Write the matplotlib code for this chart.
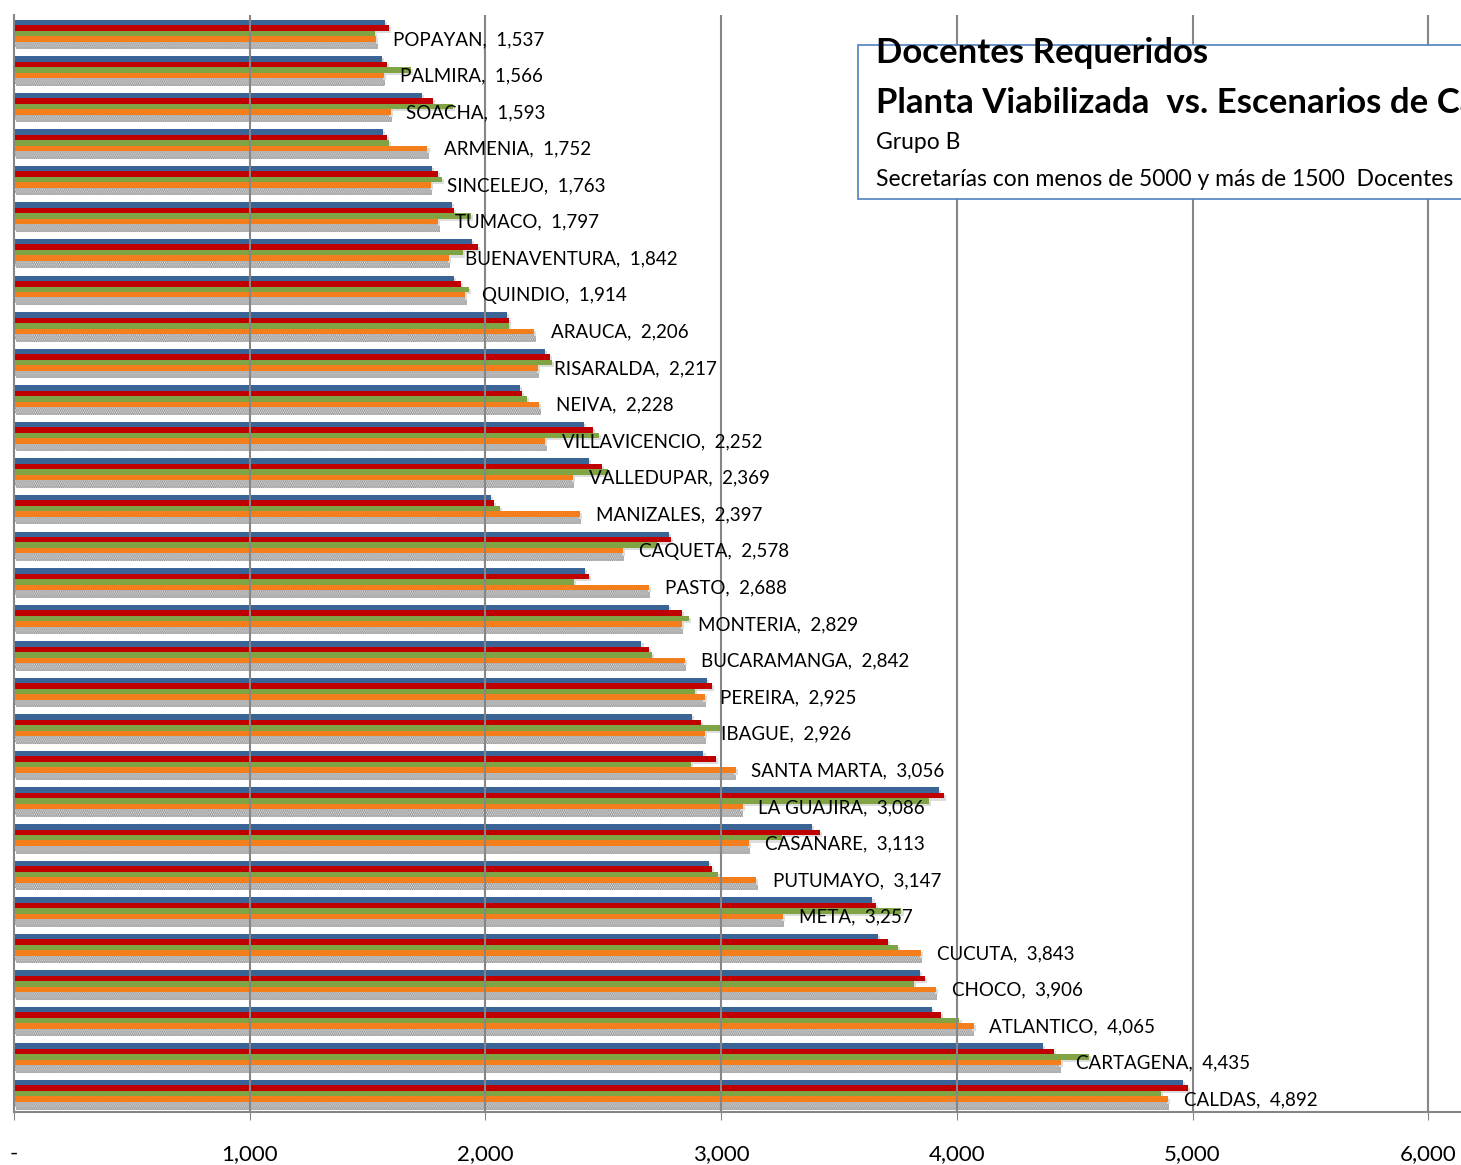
import numpy as np
import matplotlib
matplotlib.use("Agg")
import matplotlib.pyplot as plt
import matplotlib.patheffects as pe
from matplotlib.patches import Rectangle

plt.rcParams['font.family'] = ['Lato', 'DejaVu Sans']
plt.rcParams['hatch.linewidth'] = 1.2

# categories top to bottom
ciudades = ["POPAYAN", "PALMIRA", "SOACHA", "ARMENIA", "SINCELEJO", "TUMACO",
            "BUENAVENTURA", "QUINDIO", "ARAUCA", "RISARALDA", "NEIVA",
            "VILLAVICENCIO", "VALLEDUPAR", "MANIZALES", "CAQUETA", "PASTO",
            "MONTERIA", "BUCARAMANGA", "PEREIRA", "IBAGUE", "SANTA MARTA",
            "LA GUAJIRA", "CASANARE", "PUTUMAYO", "META", "CUCUTA", "CHOCO",
            "ATLANTICO", "CARTAGENA", "CALDAS"]

serie_azul = [1574, 1563, 1730, 1567, 1775, 1860, 1943, 1868, 2090, 2254, 2145,
              2417, 2440, 2022, 2779, 2421, 2779, 2662, 2941, 2878, 2925,
              3926, 3387, 2947, 3642, 3664, 3844, 3896, 4367, 4958]
serie_roja = [1591, 1583, 1776, 1583, 1798, 1868, 1967, 1896, 2100, 2275, 2154,
              2455, 2493, 2036, 2786, 2438, 2833, 2694, 2963, 2916, 2978,
              3947, 3418, 2963, 3657, 3709, 3864, 3934, 4412, 4982]
serie_verde = [1530, 1683, 1861, 1592, 1814, 1939, 1905, 1930, 2100, 2281, 2178,
               2483, 2521, 2061, 2730, 2376, 2862, 2708, 2888, 3003, 2872,
               3880, 3260, 2987, 3765, 3749, 3818, 4011, 4561, 4866]
serie_naranja = [1536, 1568, 1600, 1754, 1769, 1798, 1847, 1915, 2207, 2224, 2229,
                 2254, 2372, 2400, 2584, 2693, 2834, 2845, 2933, 2932, 3062,
                 3094, 3117, 3148, 3264, 3849, 3910, 4072, 4443, 4897]
planta = [1537, 1566, 1593, 1752, 1763, 1797, 1842, 1914, 2206, 2217, 2228,
          2252, 2369, 2397, 2578, 2688, 2829, 2842, 2925, 2926, 3056,
          3086, 3113, 3147, 3257, 3843, 3906, 4065, 4435, 4892]

fig = plt.figure(figsize=(14.61, 11.65), dpi=100)
ax = fig.add_axes([14 / 1461, 1 - 1112 / 1165, (1461 - 14) / 1461, (1112 - 15) / 1165])

sombra = [pe.SimplePatchShadow(offset=(1.5, -1.5), shadow_rgbFace="#A0A0A0", alpha=0.35), pe.Normal()]

y = np.arange(len(ciudades))
h = 0.15
series = [(serie_azul, "#3A6396"), (serie_roja, "#C00000"),
          (serie_verde, "#80A343"), (serie_naranja, "#F47E1C")]
for k, (vals, color) in enumerate(series):
    barras = ax.barh(y + (k - 2) * h, vals, height=h, color=color, edgecolor="none", zorder=2)
    for b in barras:
        b.set_path_effects(sombra)

barras = ax.barh(y + 2 * h, planta, height=h, color="#E8E8E8", edgecolor="#8C8C8C",
                 hatch="........", linewidth=0, zorder=2)
for b in barras:
    b.set_path_effects(sombra)

for i, v in enumerate(planta):
    ax.text(v + 72, i + 0.17, f"{ciudades[i]},  {v:,}", fontsize=13.5,
            va="center", ha="left", color="black", zorder=4)

ax.set_xlim(0, 6139)
ax.set_ylim(len(ciudades) - 0.5, -0.5)
ax.set_yticks([])
ticks = [0, 1000, 2000, 3000, 4000, 5000, 6000]
ax.set_xticks(ticks)
ax.set_xticklabels(["-"] + [f"{t:,}" for t in ticks[1:]], fontsize=16)
ax.tick_params(axis="x", length=6, color="#868686", pad=17)
for t in ticks[1:]:
    ax.axvline(t, color="#868686", linewidth=1.5, zorder=3)
for s in ["top", "right"]:
    ax.spines[s].set_visible(False)
for s in ["left", "bottom"]:
    ax.spines[s].set_color("#868686")
    ax.spines[s].set_linewidth(1.5)

# title box, cut by the right edge like the original
fig.patches.append(Rectangle((858 / 1461, 1 - 199 / 1165), 0.5, 154 / 1165,
                             transform=fig.transFigure, facecolor="white",
                             edgecolor="#4F81BD", linewidth=1.2, zorder=5))
fig.text(876 / 1461, 1 - 53 / 1165, "Docentes Requeridos", fontsize=25,
         fontweight="bold", va="center", ha="left", zorder=6)
fig.text(876 / 1461, 1 - 103 / 1165, "Planta Viabilizada  vs. Escenarios de Cálculo",
         fontsize=25, fontweight="bold", va="center", ha="left", zorder=6)
fig.text(876 / 1461, 1 - 143 / 1165, "Grupo B", fontsize=16.5,
         va="center", ha="left", zorder=6)
fig.text(876 / 1461, 1 - 179 / 1165, "Secretarías con menos de 5000 y más de 1500  Docentes",
         fontsize=16.5, va="center", ha="left", zorder=6)

fig.savefig("out.png", dpi=100)
